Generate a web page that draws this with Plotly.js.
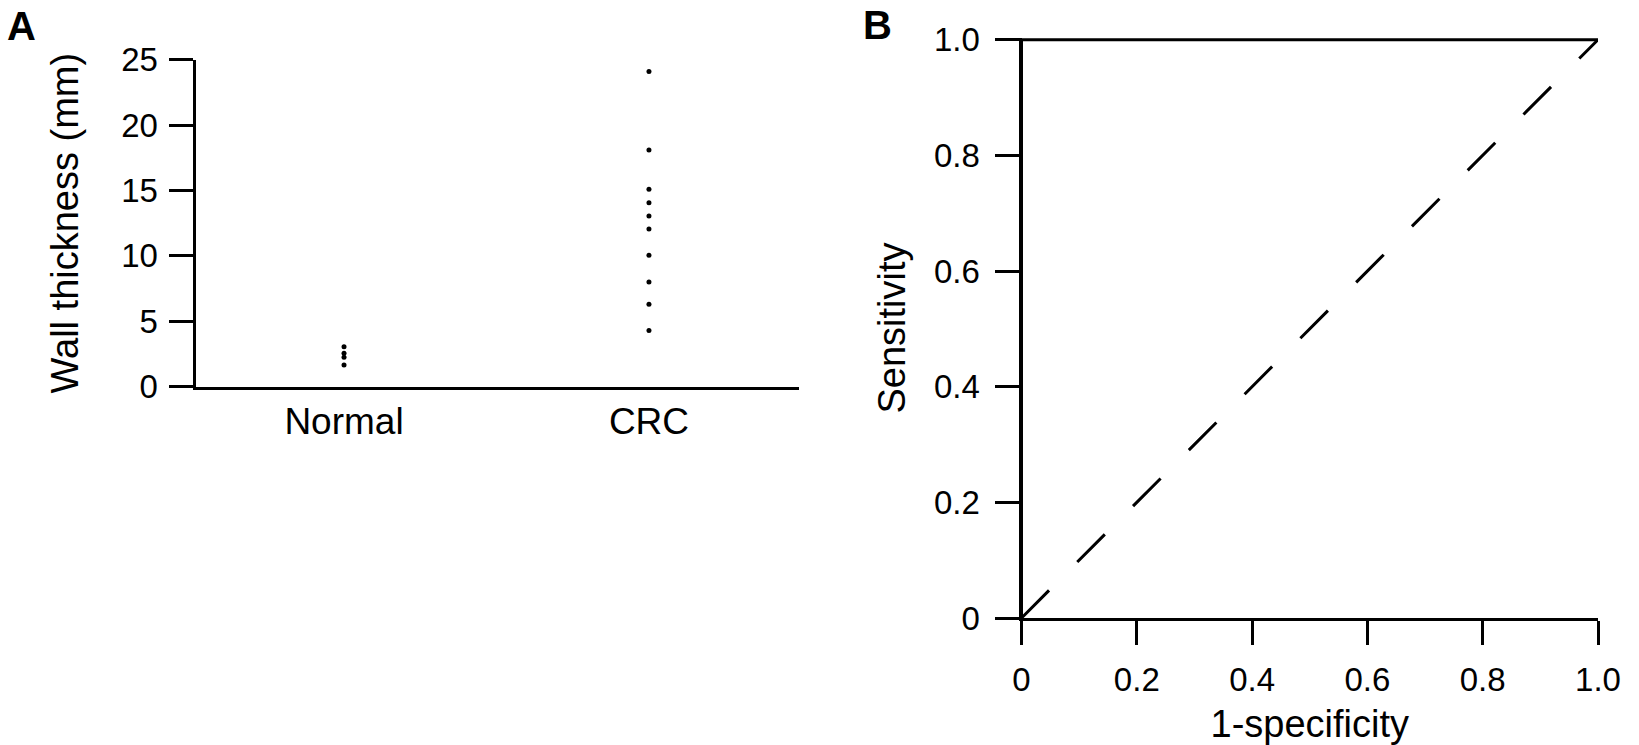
<!DOCTYPE html>
<html>
<head>
<meta charset="utf-8">
<script src="https://cdn.plot.ly/plotly-3.0.1.min.js"></script>
<style>html,body{margin:0;padding:0;background:#fff;}#chart{width:1639px;height:745px;}</style>
</head>
<body>
<div id="chart"></div>
<script>
// Panel A data
const groups = ['Normal', 'CRC'];
const normalThickness = [3.05, 2.55, 2.25, 1.65];
const crcThickness = [24.1, 18.1, 15.1, 14.05, 13.05, 12.05, 10.05, 8.0, 6.3, 4.3];
const yTicksA = [0, 5, 10, 15, 20, 25];

// Panel B data
const rocFpr = [0, 0, 1];
const rocTpr = [0, 1, 1];
const refX = [0, 1];
const refY = [0, 1];
const ticksB = [0, 0.2, 0.4, 0.6, 0.8, 1.0];
const tickTextB = ['0', '0.2', '0.4', '0.6', '0.8', '1.0'];

const W = 1639, H = 745;
const FONT = 'Liberation Sans, Arial, Helvetica, sans-serif';
const fx = p => p / W;
const fy = p => (H - p) / H;

const traces = [
  {x: normalThickness.map(() => groups[0]), y: normalThickness, type: 'scatter', mode: 'markers',
   marker: {color: '#000', size: 5}, xaxis: 'x', yaxis: 'y', hoverinfo: 'y', showlegend: false},
  {x: crcThickness.map(() => groups[1]), y: crcThickness, type: 'scatter', mode: 'markers',
   marker: {color: '#000', size: 5}, xaxis: 'x', yaxis: 'y', hoverinfo: 'y', showlegend: false},
  {x: refX, y: refY, type: 'scatter', mode: 'lines',
   line: {color: '#000', width: 3, dash: '39px,40px'}, xaxis: 'x2', yaxis: 'y2', showlegend: false},
  {x: rocFpr, y: rocTpr, type: 'scatter', mode: 'lines',
   line: {color: '#000', width: 3}, xaxis: 'x2', yaxis: 'y2', showlegend: false}
];

const layout = {
  width: W, height: H,
  margin: {l: 0, r: 0, t: 0, b: 0},
  paper_bgcolor: '#fff', plot_bgcolor: '#fff',
  font: {family: FONT, color: '#000', size: 33},
  showlegend: false,
  xaxis: {
    domain: [fx(195.5), fx(799)], anchor: 'y',
    type: 'category', categoryorder: 'array', categoryarray: groups,
    range: [-0.487, 1.492],
    showline: true, linewidth: 3, linecolor: '#000',
    ticks: '', showgrid: false, zeroline: false,
    tickfont: {size: 37}, ticklabelstandoff: 0,
    fixedrange: true
  },
  yaxis: {
    domain: [fy(386.7), fy(59.6)], anchor: 'x',
    range: [0, 25], tickvals: yTicksA,
    showline: true, linewidth: 3, linecolor: '#000',
    ticks: 'outside', ticklen: 24, tickwidth: 3, tickcolor: '#000',
    showgrid: false, zeroline: false,
    tickfont: {size: 33}, ticklabelstandoff: 4,
    title: {text: 'Wall thickness (mm)', font: {size: 38}, standoff: 31},
    fixedrange: true
  },
  xaxis2: {
    domain: [fx(1021.5), fx(1598)], anchor: 'y2',
    range: [0, 1], tickvals: ticksB, ticktext: tickTextB,
    showline: true, linewidth: 3, linecolor: '#000',
    ticks: 'outside', ticklen: 24, tickwidth: 3, tickcolor: '#000',
    showgrid: false, zeroline: false,
    tickfont: {size: 33}, ticklabelstandoff: 6,
    title: {text: '1-specificity', font: {size: 38}, standoff: 14},
    fixedrange: true
  },
  yaxis2: {
    domain: [fy(618), fy(38)], anchor: 'x2',
    range: [0, 1.003], tickvals: ticksB, ticktext: tickTextB,
    showline: true, linewidth: 3, linecolor: '#000',
    ticks: 'outside', ticklen: 24, tickwidth: 3, tickcolor: '#000',
    showgrid: false, zeroline: false,
    tickfont: {size: 33}, ticklabelstandoff: 8,
    title: {text: 'Sensitivity', font: {size: 38}, standoff: 17},
    fixedrange: true
  },
  annotations: [
    {text: '<b>A</b>', xref: 'paper', yref: 'paper', x: fx(5), y: fy(26),
     xanchor: 'left', yanchor: 'middle', showarrow: false, font: {size: 40, family: FONT}},
    {text: '<b>B</b>', xref: 'paper', yref: 'paper', x: fx(861), y: fy(25),
     xanchor: 'left', yanchor: 'middle', showarrow: false, font: {size: 40, family: FONT}}
  ]
};

Plotly.newPlot('chart', traces, layout, {staticPlot: true, displayModeBar: false});
</script>
</body>
</html>
